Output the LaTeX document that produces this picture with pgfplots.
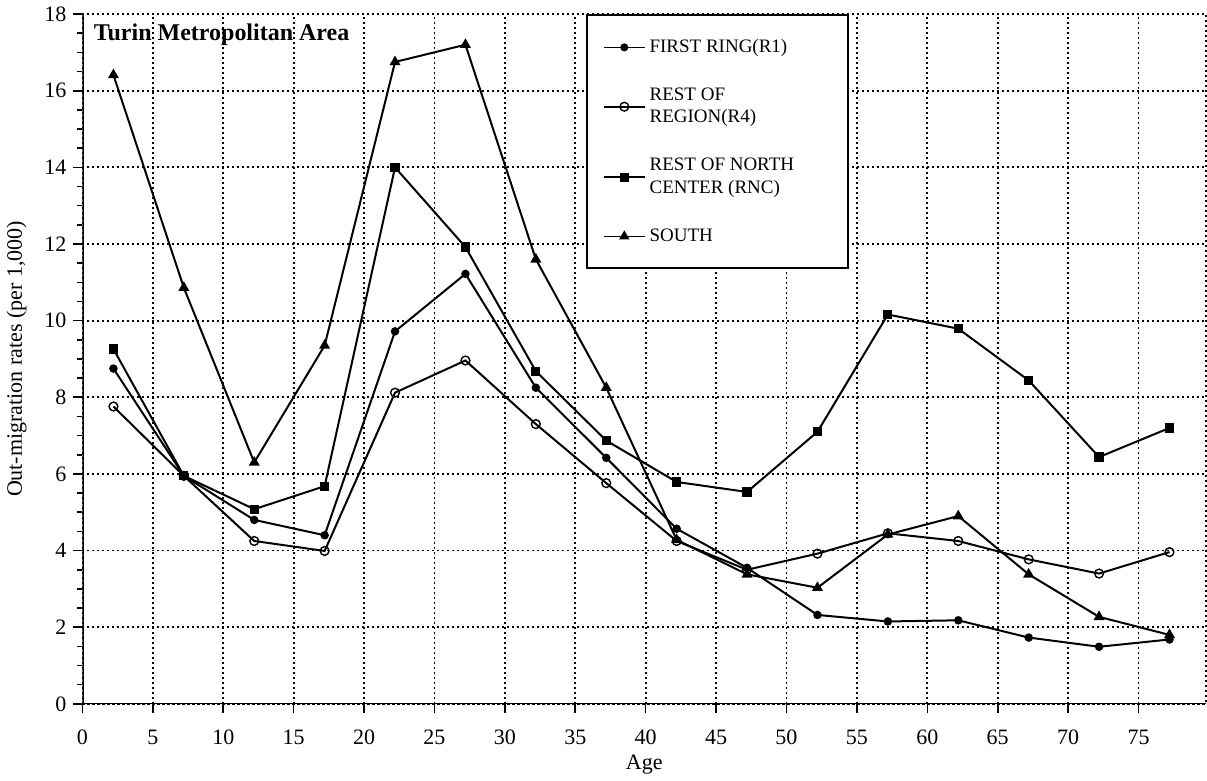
\documentclass[border=0pt]{standalone}
\usepackage{fontspec}
\setmainfont{Liberation Serif}
\usepackage{pgfplots}
\pgfplotsset{compat=1.18}
\begin{document}
\begin{tikzpicture}
  \begin{axis}[
      scale only axis,
      width=562pt, height=345pt,
      xmin=0, xmax=79.8, ymin=0, ymax=18,
      xtick={0,5,...,75}, ytick={0,2,...,18},
      minor y tick num=3,
      xtick pos=bottom, ytick pos=left,
      tick align=outside,
      major tick length=4.5pt, minor tick length=2.5pt,
      every tick/.style={black, solid, line width=0.8pt},
      grid=major,
      grid style={black, line width=0.9pt, dash pattern=on 0.9pt off 1.6pt},
      axis line style={black, line width=0.9pt, dash pattern=on 0.9pt off 1.6pt},
      /pgf/number format/assume math mode=true,
      tick label style={font=\fontsize{11}{13}\selectfont},
      x tick label style={yshift=-5pt},
      label style={font=\fontsize{11}{13}\selectfont},
      xlabel={Age},
      ylabel={Out-migration rates (per 1,000)},
      xlabel style={yshift=2pt},
      ylabel style={yshift=2pt},
      legend style={at={(0.448,1.0)}, anchor=north west, draw=black, line width=1.2pt,
        font=\fontsize{9.5}{11.5}\selectfont, row sep=12pt,
        inner xsep=8pt, inner ysep=10pt,
        cells={anchor=west, align=left}},
      legend cell align=left,
      legend image code/.code={%
        \draw[line width=0.8pt, mark repeat=2, mark phase=2]
          plot coordinates {(0cm,0cm) (0.36cm,0cm) (0.72cm,0cm)};},
    ]
    \addplot[black, line width=1pt, mark=*, mark size=1.6pt] coordinates {
      (2.2,8.75) (7.2,5.95) (12.2,4.8) (17.2,4.4) (22.2,9.72) (27.2,11.22)
      (32.2,8.25) (37.2,6.42) (42.2,4.57) (47.2,3.55) (52.2,2.32) (57.2,2.15)
      (62.2,2.18) (67.2,1.73) (72.2,1.49) (77.2,1.68)};
    \addlegendentry{FIRST RING(R1)}
    \addplot[black, line width=1pt, mark=o, mark size=2.2pt, mark options={solid, fill=white, line width=0.7pt}] coordinates {
      (2.2,7.76) (7.2,5.95) (12.2,4.25) (17.2,3.99) (22.2,8.12) (27.2,8.96)
      (32.2,7.3) (37.2,5.76) (42.2,4.25) (47.2,3.5) (52.2,3.92) (57.2,4.45)
      (62.2,4.25) (67.2,3.77) (72.2,3.4) (77.2,3.96)};
    \addlegendentry{REST OF\\REGION(R4)}
    \addplot[black, line width=1pt, mark=square*, mark size=1.8pt] coordinates {
      (2.2,9.26) (7.2,5.95) (12.2,5.08) (17.2,5.68) (22.2,14.0) (27.2,11.92)
      (32.2,8.68) (37.2,6.87) (42.2,5.79) (47.2,5.53) (52.2,7.1) (57.2,10.16)
      (62.2,9.79) (67.2,8.44) (72.2,6.44) (77.2,7.2)};
    \addlegendentry{REST OF NORTH\hspace*{17pt}\\CENTER (RNC)}
    \addplot[black, line width=1pt, mark=triangle*, mark size=2.2pt] coordinates {
      (2.2,16.41) (7.2,10.86) (12.2,6.3) (17.2,9.35) (22.2,16.75) (27.2,17.2)
      (32.2,11.6) (37.2,8.25) (42.2,4.28) (47.2,3.38) (52.2,3.03) (57.2,4.42)
      (62.2,4.9) (67.2,3.38) (72.2,2.27) (77.2,1.8)};
    \addlegendentry{SOUTH}
    \draw[black, solid, line width=1.1pt] (rel axis cs:0,1) -- (rel axis cs:0,0) -- (rel axis cs:1,0);
    \node[anchor=north west, font=\bfseries\fontsize{12}{14}\selectfont, inner sep=1pt]
      at (rel axis cs:0.008,0.99) {Turin Metropolitan Area};
  \end{axis}
\end{tikzpicture}
\end{document}
